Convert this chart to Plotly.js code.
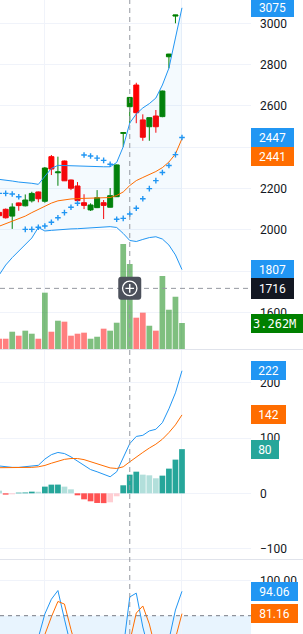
<!DOCTYPE html>
<html><head><meta charset="utf-8">
<script src="https://cdn.plot.ly/plotly-3.0.1.min.js"></script>
<style>html,body{margin:0;padding:0;background:#fff;overflow:hidden}#chart{width:303px;height:634px}</style>
</head><body><div id="chart"></div>
<script>
const dates = ['2023-10-23','2023-10-24','2023-10-25','2023-10-26','2023-10-27','2023-10-30','2023-10-31',
 '2023-11-01','2023-11-02','2023-11-03','2023-11-06','2023-11-07','2023-11-08','2023-11-09','2023-11-10',
 '2023-11-13','2023-11-14','2023-11-15','2023-11-16','2023-11-17','2023-11-20','2023-11-21','2023-11-22',
 '2023-11-24','2023-11-27','2023-11-28','2023-11-29','2023-11-30','2023-12-01'];
const open  = [2084,2099,2066,2130,2116,2140,2183,2138,2354,2276,2333,2241,2212,2131,2096,2107,2131,2109,2160,2467,2596,2701,2532,2499,2551,2548,2838,3035,3130];
const high  = [2091,2103,2128,2132,2171,2184,2185,2304,2362,2354,2335,2243,2231,2172,2128,2192,2144,2202,2316,2471,2643,2712,2559,2544,2580,2674,2852,3041,3260];
const low   = [2064,2054,2004,2092,2113,2132,2133,2131,2265,2213,2236,2192,2133,2100,2091,2105,2052,2108,2159,2402,2516,2516,2431,2431,2470,2545,2782,3000,3120];
const close = [2068,2058,2110,2117,2144,2176,2150,2299,2294,2280,2237,2201,2141,2118,2120,2155,2118,2165,2314,2470,2641,2567,2448,2543,2499,2672,2851,3040,3230];
const volumeM = [1.29,1.29,2.17,1.67,2.30,1.92,1.29,7.07,2.17,3.55,3.43,1.67,1.92,2.05,1.29,1.54,2.55,2.30,3.30,13.18,10.67,3.93,4.56,2.92,2.30,9.16,4.93,6.56,3.262];
const bbUpper = [2244,2241,2236,2231,2229,2225,2220,2257,2297,2312,2311,2309,2306,2305,2305,2305,2305,2305,2326,2402,2517,2561,2590,2611,2638,2701,2783,2929,3075];
const bbLower = [1781,1829,1865,1897,1926,1960,2011,1994,1997,2000,2003,2004,2005,2007,2009,2012,2015,2015,2011,1982,1948,1943,1953,1962,1966,1955,1926,1878,1807];
const bbBasis = [2017,2030,2041,2053,2066,2083,2098,2114,2129,2140,2146,2149,2151,2152,2152,2152,2152,2156,2166,2183,2214,2238,2253,2268,2282,2301,2328,2367,2441];
const sar = [2176,2176,2173,2160,2002,2002,2012,2018,2036,2058,2083,2109,2128,2362,2357,2347,2336,2317,2051,2055,2076,2104,2150,2199,2238,2277,2311,2364,2447];
const macd = [49.5,48,47,47,48,49.7,50.7,62,70,74,72,66,58,50,43,39,34,30,39,66,90,103,105,113,116,128,153,182,222];
const signal = [46.4,46.4,46.4,46.4,46.6,47,48,50.5,54.5,58.5,61.5,63,63,61,57,54,50,46,45,48,57,66,74,82,89,98,110,124,142];
const hist = [4.8,-2.4,-1.8,1.2,1.5,3.0,2.8,12.1,15.7,15.8,12.1,7.2,-3.6,-10.9,-14.5,-17.5,-17.8,-16.3,-5.4,14.5,33.8,39.2,33.8,32.6,27.2,32,44.7,61,80];
const stochK = [35,30,38,42,50,60,67.4,81,89.5,94.5,78,52,30,18,15,25,22,35,43.5,60.7,90.8,93,73.5,59,48,55,66,83.3,94.06];
const stochD = [40,36,34,37,43,51,59,69.5,79.3,88.2,86.7,72,53,33,21,19,21,27,33.5,46,65,81.5,85.6,75.2,60,54,56,67,81.16];
const priceTicks = [1600,1800,2000,2200,2400,2600,2800,3000];
const macdTicks = [-100,0,100,200];
const stochTicks = [100];
const stochTickText = ['100.00'];
const monthStarts = ['2023-11-01','2023-12-01'];
const crossDate = '2023-11-20';
const crossPrice = 1716;

const GREEN='#008000', RED='#ff0000', BLUE='#2196f3', ORANGE='#ff6d00', TEAL='#26a69a';
const last = dates.length-1;
const volColors = close.map((c,i)=> c>=open[i] ? 'rgba(0,128,0,0.5)' : 'rgba(255,0,0,0.5)');
const histColors = hist.map((h,i)=>{
  const prev = i>0 ? hist[i-1] : Infinity;
  if(h>=0) return h>=prev ? TEAL : '#b2dfdb';
  return h<prev ? '#ff5252' : '#ffcdd2';
});

const traces = [
  {type:'bar', x:dates, y:volumeM, xaxis:'x', yaxis:'y', marker:{color:volColors, line:{width:0}}, hoverinfo:'skip'},
  {type:'scatter', mode:'lines', x:dates, y:bbUpper, xaxis:'x', yaxis:'y2', line:{color:BLUE, width:1}, hoverinfo:'skip'},
  {type:'scatter', mode:'lines', x:dates, y:bbLower, xaxis:'x', yaxis:'y2', line:{color:BLUE, width:1}, fill:'tonexty', fillcolor:'rgba(33,150,243,0.05)', hoverinfo:'skip'},
  {type:'scatter', mode:'lines', x:dates, y:bbBasis, xaxis:'x', yaxis:'y2', line:{color:ORANGE, width:1}, hoverinfo:'skip'},
  {type:'candlestick', x:dates, open:open, high:high, low:low, close:close, xaxis:'x', yaxis:'y2',
   increasing:{line:{color:GREEN, width:1}, fillcolor:GREEN},
   decreasing:{line:{color:RED, width:1}, fillcolor:RED}, whiskerwidth:0, hoverinfo:'skip'},
  {type:'scatter', mode:'markers', x:dates, y:sar, xaxis:'x', yaxis:'y2',
   marker:{symbol:'cross-thin', size:4, line:{color:BLUE, width:1.4}}, hoverinfo:'skip'},
  {type:'bar', x:dates, y:hist, xaxis:'x', yaxis:'y3', marker:{color:histColors, line:{width:0}}, hoverinfo:'skip'},
  {type:'scatter', mode:'lines', x:dates, y:macd, xaxis:'x', yaxis:'y3', line:{color:BLUE, width:1}, hoverinfo:'skip'},
  {type:'scatter', mode:'lines', x:dates, y:signal, xaxis:'x', yaxis:'y3', line:{color:ORANGE, width:1}, hoverinfo:'skip'},
  {type:'scatter', mode:'lines', x:dates, y:stochK, xaxis:'x', yaxis:'y4', line:{color:BLUE, width:1}, hoverinfo:'skip'},
  {type:'scatter', mode:'lines', x:dates, y:stochD, xaxis:'x', yaxis:'y4', line:{color:ORANGE, width:1}, hoverinfo:'skip'}
];

const H=634;
const tickFont = {family:'Roboto, sans-serif', size:12, color:'#131722'};
const yCommon = {side:'right', ticks:'', ticklabelstandoff:8, showline:false, zeroline:false, gridcolor:'#f0f3fa', gridwidth:1, tickfont:tickFont, fixedrange:true};

function badge(text, yref, y, bg, w, extra){
  return Object.assign({xref:'paper', x:1, xanchor:'left', yref:yref, y:y, yanchor:'middle', text:text,
    showarrow:false, bgcolor:bg, borderpad:2, borderwidth:0, width:w, height:15, align:'center',
    font:{family:'Roboto, sans-serif', size:12, color:'#ffffff'}}, extra||{});
}

const annotations = [
  badge(String(bbUpper[last]), 'y2', bbUpper[last], BLUE, 39),
  badge(String(sar[last]), 'y2', sar[last], BLUE, 39),
  badge(String(bbBasis[last]), 'y2', bbBasis[last], ORANGE, 39, {yshift:-18}),
  badge(String(bbLower[last]), 'y2', bbLower[last], BLUE, 39),
  badge(String(crossPrice), 'y2', crossPrice, '#131722', 39, {height:17}),
  badge(volumeM[last].toFixed(3)+'M', 'y', volumeM[last], GREEN, 52, {font:{family:'DejaVu Sans Mono, monospace', size:12, color:'#ffffff'}, align:'left'}),
  badge(String(macd[last]), 'y3', macd[last], BLUE, 31),
  badge(String(signal[last]), 'y3', signal[last], ORANGE, 31),
  badge(String(hist[last]), 'y3', hist[last], TEAL, 24),
  badge(stochK[last].toFixed(2), 'y4', stochK[last], BLUE, 43),
  badge(stochD[last].toFixed(2), 'y4', stochD[last], ORANGE, 43)
];

const rr = 'M -8.5,-11.5 L 8.5,-11.5 Q 11.5,-11.5 11.5,-8.5 L 11.5,8.5 Q 11.5,11.5 8.5,11.5 L -8.5,11.5 Q -11.5,11.5 -11.5,8.5 L -11.5,-8.5 Q -11.5,-11.5 -8.5,-11.5 Z';
const shapes = [
  {type:'rect', xref:'paper', x0:0, x1:1, yref:'y4', y0:20, y1:80, fillcolor:'rgba(33,150,243,0.1)', line:{width:0}, layer:'below'},
  {type:'line', xref:'paper', x0:0, x1:1, yref:'y4', y0:80, y1:80, line:{color:'#787b86', width:1, dash:'4px,4px'}},
  {type:'line', xref:'paper', x0:0, x1:303/251, yref:'paper', y0:(H-349.5)/H, y1:(H-349.5)/H, line:{color:'#e0e3eb', width:1}},
  {type:'line', xref:'paper', x0:0, x1:303/251, yref:'paper', y0:(H-559.5)/H, y1:(H-559.5)/H, line:{color:'#e0e3eb', width:1}},
  {type:'line', xref:'x', x0:crossDate, x1:crossDate, yref:'paper', y0:0, y1:1, line:{color:'#9598a1', width:1, dash:'5px,4px'}},
  {type:'line', xref:'paper', x0:0, x1:1, yref:'y2', y0:crossPrice, y1:crossPrice, line:{color:'#9598a1', width:1, dash:'5px,4px'}},
  {type:'path', xref:'x', yref:'y2', xsizemode:'pixel', ysizemode:'pixel', xanchor:crossDate, yanchor:crossPrice, path:rr, fillcolor:'#4c505b', line:{width:0}},
  {type:'circle', xref:'x', yref:'y2', xsizemode:'pixel', ysizemode:'pixel', xanchor:crossDate, yanchor:crossPrice, x0:-7.2, x1:7.2, y0:-7.2, y1:7.2, line:{color:'#ffffff', width:1.3}},
  {type:'path', xref:'x', yref:'y2', xsizemode:'pixel', ysizemode:'pixel', xanchor:crossDate, yanchor:crossPrice, path:'M -4.3,0 L 4.3,0 M 0,-4.3 L 0,4.3', line:{color:'#ffffff', width:1.4}}
];

const layout = {
  width:303, height:H, margin:{l:0, r:52, t:0, b:0, pad:0},
  paper_bgcolor:'#ffffff', plot_bgcolor:'#ffffff', showlegend:false,
  bargap:0.12, boxgap:0.1, boxgroupgap:0.15, hovermode:false, dragmode:false,
  font:{family:'Roboto, sans-serif', size:12, color:'#131722'},
  xaxis:{type:'category', range:[0.129, 38.57], anchor:'y4', showticklabels:false, ticks:'',
    tickmode:'array', tickvals:monthStarts, showgrid:true, gridcolor:'#f0f3fa', gridwidth:1,
    zeroline:false, showline:false, rangeslider:{visible:false}, fixedrange:true},
  yaxis:{domain:[(H-349)/H, 1], range:[0, 43.8], visible:false, fixedrange:true, anchor:'x'},
  yaxis2:Object.assign({}, yCommon, {overlaying:'y', anchor:'x', range:[1422.3, 3112.9], tickmode:'array', tickvals:priceTicks}),
  yaxis3:Object.assign({}, yCommon, {domain:[(H-559)/H, (H-350)/H], anchor:'x', range:[-119, 259.6], tickmode:'array', tickvals:macdTicks}),
  yaxis4:Object.assign({}, yCommon, {domain:[0, (H-560)/H], anchor:'x', range:[69.45, 112.1], tickmode:'array', tickvals:stochTicks, ticktext:stochTickText}),
  annotations:annotations, shapes:shapes
};

Plotly.newPlot('chart', traces, layout, {staticPlot:true, displayModeBar:false});
</script></body></html>
